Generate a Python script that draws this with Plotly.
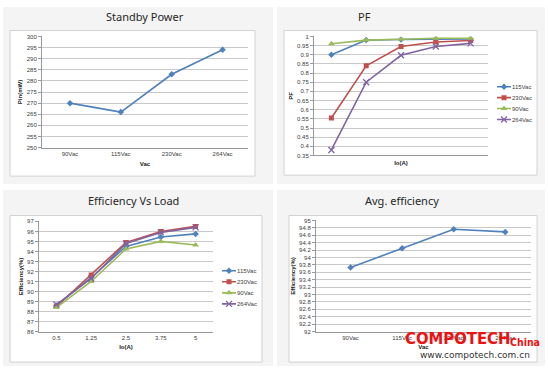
import plotly.graph_objects as go

W, H = 548, 369

# ---------------- data ----------------
vac_labels = ["90Vac", "115Vac", "230Vac", "264Vac"]
standby_mw = [270, 266, 283, 294]

load_labels = ["0.5", "1.25", "2.5", "3.75", "5"]
series_names = ["115Vac", "230Vac", "90Vac", "264Vac"]

pf_115 = [0.900, 0.980, 0.983, 0.985, 0.986]
pf_230 = [0.555, 0.840, 0.945, 0.970, 0.978]
pf_90 = [0.960, 0.980, 0.985, 0.990, 0.990]
pf_264 = [0.380, 0.750, 0.897, 0.945, 0.962]

eff_115 = [88.6, 91.4, 94.5, 95.45, 95.75]
eff_230 = [88.5, 91.65, 94.9, 96.0, 96.5]
eff_90 = [88.4, 91.0, 94.25, 95.0, 94.65]
eff_264 = [88.7, 91.3, 94.8, 95.9, 96.4]

avg_eff = [93.73, 94.25, 94.76, 94.69]

# ---------------- style ----------------
colors = {"115Vac": "#4F81BD", "230Vac": "#C0504D", "90Vac": "#9BBB59", "264Vac": "#8064A2"}
symbols = {"115Vac": "diamond", "230Vac": "square", "90Vac": "triangle-up", "264Vac": "x-thin"}
FAM = "Liberation Sans, Arial, sans-serif"
TICKFONT = dict(family=FAM, size=6, color="#404040")
AXTITLE = dict(family=FAM, size=6, color="#202020")
TITLEFONT = dict(family="Noto Sans, Open Sans, sans-serif", size=11, color="#262626")
GRID = "#c9c9c9"
AXLINE = "#9a9a9a"


def px(x):
    return x / W


def py(y):
    return 1 - y / H


def marker_for(name):
    sym = symbols[name]
    if sym == "x-thin":
        return dict(symbol=sym, size=6, color=colors[name], line=dict(width=1.3, color=colors[name]))
    return dict(symbol=sym, size=5 if sym != "triangle-up" else 6, color=colors[name])


fig = go.Figure()

# ---- panel 1: Standby Power
fig.add_trace(go.Scatter(x=vac_labels, y=standby_mw, mode="lines+markers",
                         line=dict(color="#4F81BD", width=1.6),
                         marker=dict(symbol="diamond", size=5, color="#4F81BD"),
                         xaxis="x", yaxis="y", showlegend=False))

# ---- panel 2: PF
for name, vals in zip(series_names, [pf_115, pf_230, pf_90, pf_264]):
    fig.add_trace(go.Scatter(x=load_labels, y=vals, mode="lines+markers",
                             line=dict(color=colors[name], width=1.6),
                             marker=marker_for(name),
                             xaxis="x2", yaxis="y2", showlegend=False, name=name))

# ---- panel 3: Efficiency vs load
for name, vals in zip(series_names, [eff_115, eff_230, eff_90, eff_264]):
    fig.add_trace(go.Scatter(x=load_labels, y=vals, mode="lines+markers",
                             line=dict(color=colors[name], width=1.6),
                             marker=marker_for(name),
                             xaxis="x3", yaxis="y3", showlegend=False, name=name))

# ---- panel 4: Avg efficiency
fig.add_trace(go.Scatter(x=vac_labels, y=avg_eff, mode="lines+markers",
                         line=dict(color="#4F81BD", width=1.6),
                         marker=dict(symbol="diamond", size=5, color="#4F81BD"),
                         xaxis="x4", yaxis="y4", showlegend=False))

# ---- manual legends (glyph axes)
for ax_x, ax_y in [("x5", "y5"), ("x6", "y6")]:
    for i, name in enumerate(series_names):
        fig.add_trace(go.Scatter(x=[0, 1], y=[i, i], mode="lines",
                                 line=dict(color=colors[name], width=1.6),
                                 xaxis=ax_x, yaxis=ax_y, showlegend=False, hoverinfo="skip"))
        fig.add_trace(go.Scatter(x=[0.5], y=[i], mode="markers", marker=marker_for(name),
                                 xaxis=ax_x, yaxis=ax_y, showlegend=False, hoverinfo="skip"))


def xax(x0, x1, rng, showlabels=True, title=None):
    d = dict(domain=[px(x0), px(x1)], type="category", range=rng, showgrid=False,
             showline=True, linecolor=AXLINE, linewidth=1, ticks="", showticklabels=showlabels,
             tickfont=TICKFONT, zeroline=False, fixedrange=True)
    if title:
        d["title"] = dict(text=title, font=AXTITLE, standoff=5)
    return d


def yax(y0, y1, rng, dtick, anchor, title):
    return dict(domain=[py(y1), py(y0)], range=rng, dtick=dtick, showgrid=True, gridcolor=GRID,
                gridwidth=1, showline=True, linecolor=AXLINE, linewidth=1, ticks="outside",
                ticklen=3, tickcolor=AXLINE, tickfont=TICKFONT, zeroline=False, anchor=anchor,
                title=dict(text="<b>" + title + "</b>", font=AXTITLE, standoff=3), fixedrange=True)


layout = dict(
    width=W, height=H, autosize=False,
    margin=dict(l=0, r=0, t=0, b=0),
    paper_bgcolor="white", plot_bgcolor="rgba(0,0,0,0)",
    showlegend=False,
    xaxis=xax(42, 248, [-0.55, 3.5], True, "<b>Vac</b>"),
    yaxis=yax(34, 147, [250, 300], 5, "x", "Pin(mW)"),
    xaxis2=dict(xax(314, 488, [-0.5, 4.5], False, "<b>Io(A)</b>"), anchor="y2"),
    yaxis2=yax(34, 155, [0.35, 1.0], 0.05, "x2", "PF"),
    xaxis3=dict(xax(39, 213, [-0.5, 4.5], True, "<b>Io(A)</b>"), anchor="y3"),
    yaxis3=yax(222, 334, [86, 97], 1, "x3", "Efficiency(%)"),
    xaxis4=dict(xax(316, 531, [-0.67, 3.5], True, "<b>Vac</b>"), anchor="y4"),
    yaxis4=yax(221, 334, [92, 95], 0.2, "x4", "Efficiency(%)"),
    xaxis5=dict(domain=[px(497), px(511)], range=[0, 1], visible=False, anchor="y5", fixedrange=True),
    yaxis5=dict(domain=[py(124), py(79.5)], range=[3.5, -0.5], visible=False, anchor="x5", fixedrange=True),
    xaxis6=dict(domain=[px(222), px(236)], range=[0, 1], visible=False, anchor="y6", fixedrange=True),
    yaxis6=dict(domain=[py(311.5), py(266.5)], range=[3.5, -0.5], visible=False, anchor="x6", fixedrange=True),
)
layout["yaxis"]["tickformat"] = "d"
layout["yaxis2"]["tickformat"] = ".2~f"
layout["yaxis4"]["tickformat"] = ".1~f"

shapes = []
# grey slide panels
for (x0, y0, x1, y1) in [(3, 4, 273, 184), (277, 4, 545, 184), (3, 190, 273, 369), (277, 190, 545, 369)]:
    shapes.append(dict(type="rect", xref="paper", yref="paper", x0=px(x0), x1=px(x1), y0=py(y1), y1=py(y0),
                       fillcolor="#f4f4f4", line=dict(width=0), layer="below"))
# white chart boxes
for (x0, y0, x1, y1) in [(10, 28, 255, 176), (284, 28, 537, 175), (10, 216, 262, 365), (289, 216, 537, 365)]:
    shapes.append(dict(type="rect", xref="paper", yref="paper", x0=px(x0), x1=px(x1), y0=py(y1), y1=py(y0),
                       fillcolor="white", line=dict(width=1, color="#d2d2d2"), layer="below"))
layout["shapes"] = shapes

ann = []
for text, x, y in [("Standby Power", 145, 14), ("PF", 364, 14), ("Efficiency Vs Load", 133, 201),
                   ("Avg. efficiency", 402, 201)]:
    ann.append(dict(text=text, x=px(x), y=py(y), xref="paper", yref="paper", showarrow=False,
                    xanchor="center", yanchor="middle", font=TITLEFONT))
# legend labels
for yax_name, xl in [("y5", 512), ("y6", 237)]:
    for i, name in enumerate(series_names):
        ann.append(dict(text=name, x=px(xl), y=i, xref="paper", yref=yax_name, showarrow=False,
                        xanchor="left", yanchor="middle", xshift=-2, font=TICKFONT))
# watermark
ann.append(dict(text="<b>COMPOTECH</b>", x=px(457), y=py(341), xref="paper", yref="paper", showarrow=False,
                xanchor="center", yanchor="middle",
                font=dict(family="DejaVu Sans Condensed, Liberation Sans, sans-serif", size=16.5, color="#ee1111")))
ann.append(dict(text="<b>China</b>", x=px(508), y=py(345), xref="paper", yref="paper", showarrow=False,
                xanchor="left", yanchor="middle",
                font=dict(family="DejaVu Sans Condensed, Liberation Sans, sans-serif", size=10.5, color="#ee1111")))
ann.append(dict(text="www.compotech.com.cn", x=px(475), y=py(358), xref="paper", yref="paper", showarrow=False,
                xanchor="center", yanchor="middle",
                font=dict(family="DejaVu Sans, sans-serif", size=9, color="#333333")))
layout["annotations"] = ann

fig.update_layout(**layout)
fig.write_html("out.html", config={"displayModeBar": False, "staticPlot": True},
               post_script="document.body.style.margin='0';document.body.style.overflow='hidden';")
